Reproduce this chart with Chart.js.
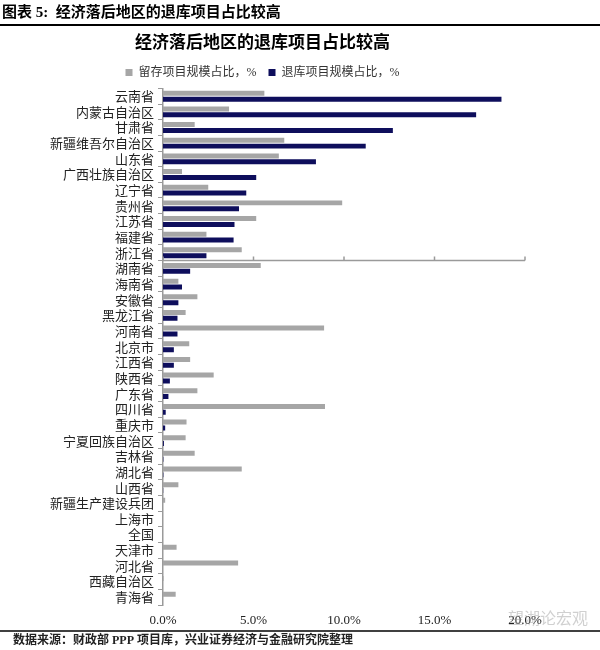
<!DOCTYPE html>
<html>
<head>
<meta charset="utf-8">
<script src="https://cdn.jsdelivr.net/npm/chart.js@4"></script>
<style>
  html, body { margin: 0; padding: 0; background: #fff; }
  #wrap { width: 600px; height: 650px; }
</style>
</head>
<body>
<div id="wrap"><canvas id="c" width="600" height="650"></canvas></div>
<script>
// 数据
const provinces = ['云南省', '内蒙古自治区', '甘肃省', '新疆维吾尔自治区', '山东省', '广西壮族自治区', '辽宁省', '贵州省', '江苏省', '福建省', '浙江省',
    '湖南省', '海南省', '安徽省', '黑龙江省', '河南省', '北京市', '江西省', '陕西省', '广东省', '四川省', '重庆市',
    '宁夏回族自治区', '吉林省', '湖北省', '山西省', '新疆生产建设兵团', '上海市', '全国', '天津市', '河北省', '西藏自治区', '青海省']
const retained = [5.6, 3.65, 1.75, 6.7, 6.4, 1.05, 2.5, 9.9, 5.15, 2.4, 4.35,
    5.4, 0.85, 1.9, 1.25, 8.9, 1.45, 1.5, 2.8, 1.9, 8.95, 1.3,
    1.25, 1.75, 4.35, 0.85, 0.12, 0, 0, 0.75, 4.15, 0.03, 0.7]
const withdrawn = [18.7, 17.3, 12.7, 11.2, 8.45, 5.15, 4.6, 4.2, 3.95, 3.9, 2.4,
    1.5, 1.05, 0.85, 0.8, 0.8, 0.6, 0.6, 0.38, 0.3, 0.15, 0.12,
    0.05, 0.02, 0.02, 0.01, 0, 0, 0, 0, 0, 0, 0]
const seriesNames = ['留存项目规模占比，%', '退库项目规模占比，%']
const xTicks = [0, 5, 10, 15, 20]

const fontFamily = "'Liberation Serif', 'Noto Sans CJK SC', serif"

// 页眉、页脚和中间的横轴线
const decor = {
    id: 'decor',
    afterDatasetsDraw(chart) {
        const ctx = chart.ctx
        const x = chart.scales.x
        const y = chart.scales.y
        const yMid = (y.getPixelForValue(10) + y.getPixelForValue(11)) / 2

        ctx.save()
        ctx.strokeStyle = '#9a9a9a'
        ctx.lineWidth = 1.5
        ctx.beginPath()
        ctx.moveTo(x.left, yMid)
        ctx.lineTo(x.right, yMid)
        xTicks.forEach(v => {
            const px = x.getPixelForValue(v)
            ctx.moveTo(px, yMid)
            ctx.lineTo(px, yMid - 4)
        })
        ctx.stroke()
        ctx.restore()
    },
    afterDraw(chart) {
        const ctx = chart.ctx
        ctx.save()
        ctx.fillStyle = '#000'
        ctx.textBaseline = 'middle'
        ctx.font = "bold 15px " + fontFamily
        ctx.fillText('图表 5:  经济落后地区的退库项目占比较高', 2, 13)

        ctx.strokeStyle = '#000'
        ctx.lineWidth = 2
        ctx.beginPath()
        ctx.moveTo(0, 25)
        ctx.lineTo(600, 25)
        ctx.stroke()

        ctx.lineWidth = 1.5
        ctx.beginPath()
        ctx.moveTo(0, 631)
        ctx.lineTo(600, 631)
        ctx.stroke()

        ctx.font = "bold 12px " + fontFamily
        ctx.fillStyle = '#222'
        ctx.fillText('数据来源：财政部 PPP 项目库，兴业证券经济与金融研究院整理', 13, 641)

        // 水印
        ctx.font = "16px 'Noto Sans CJK SC'"
        ctx.fillStyle = 'rgba(150,150,150,0.45)'
        ctx.fillText('望湖论宏观', 508, 618)
        ctx.restore()
    }
}

const config = {
    type: 'bar',
    data: {
        labels: provinces,
        datasets: [{
            label: seriesNames[0],
            data: retained,
            backgroundColor: '#a6a6a6',
            categoryPercentage: 0.75,
            barPercentage: 0.85
        }, {
            label: seriesNames[1],
            data: withdrawn,
            backgroundColor: '#0e0e5c',
            categoryPercentage: 0.75,
            barPercentage: 0.85
        }]
    },
    options: {
        indexAxis: 'y',
        responsive: false,
        animation: false,
        layout: {
            padding: { top: 25, right: 75, bottom: 19, left: 0 }
        },
        plugins: {
            title: {
                display: true,
                text: '经济落后地区的退库项目占比较高',
                color: '#000',
                font: { family: fontFamily, size: 17, weight: 'bold' },
                padding: { top: 8, bottom: 1 }
            },
            legend: {
                labels: {
                    color: '#333',
                    font: { family: fontFamily, size: 12 },
                    boxWidth: 7,
                    boxHeight: 7,
                    padding: 12
                }
            },
            tooltip: { enabled: false }
        },
        scales: {
            x: {
                min: 0,
                max: 20,
                afterBuildTicks(scale) {
                    scale.ticks = xTicks.map(v => ({ value: v }))
                },
                afterFit(scale) {
                    scale.height = 26
                },
                grid: { display: false, drawTicks: false },
                border: { display: false },
                ticks: {
                    color: '#222',
                    font: { family: fontFamily, size: 13 },
                    padding: 8,
                    maxRotation: 0,
                    callback: v => v.toFixed(1) + '%'
                }
            },
            y: {
                afterFit(scale) {
                    scale.width = 163
                },
                grid: {
                    offset: true,
                    drawOnChartArea: false,
                    tickLength: 5,
                    color: '#9a9a9a'
                },
                border: { display: true, color: '#9a9a9a', width: 1.5 },
                ticks: {
                    color: '#222',
                    font: { family: "'Noto Sans CJK SC', sans-serif", size: 13 },
                    padding: 4,
                    autoSkip: false
                }
            }
        }
    },
    plugins: [decor]
}

const grafico = new Chart(document.getElementById('c'), config)
</script>
</body>
</html>
